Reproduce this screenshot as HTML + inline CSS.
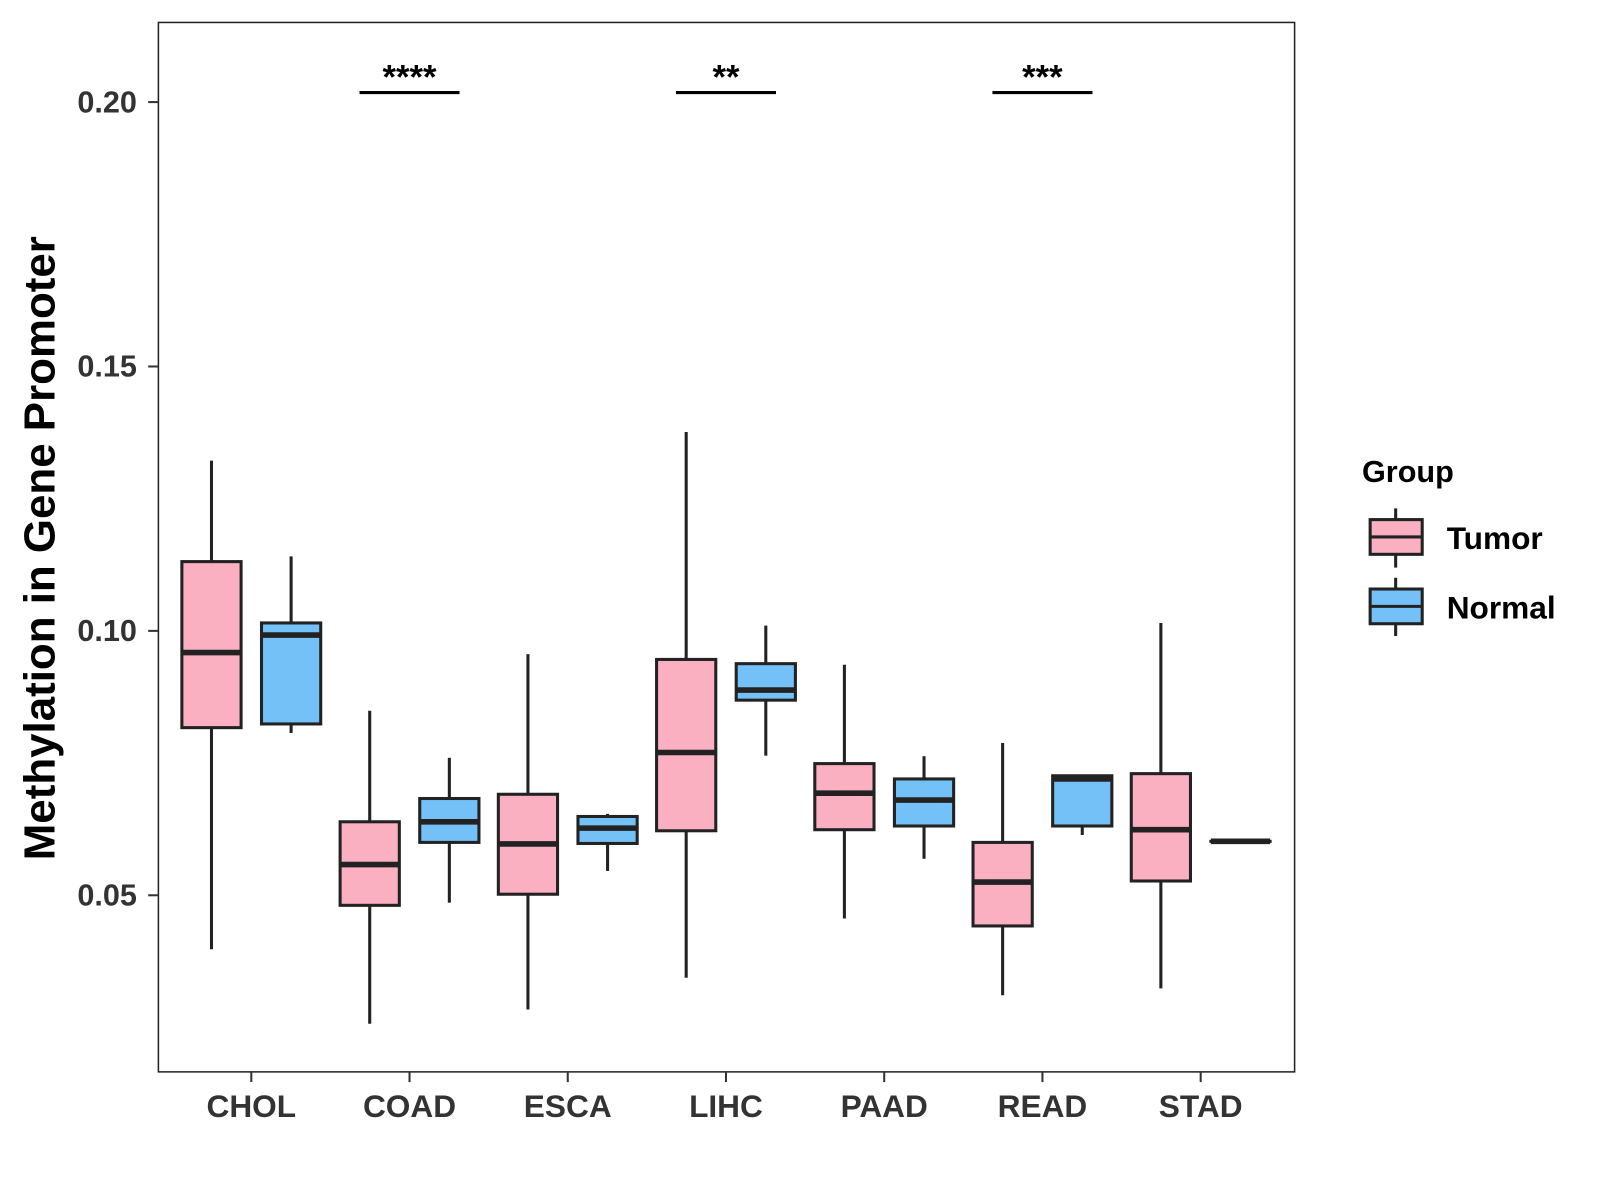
<!DOCTYPE html>
<html><head><meta charset="utf-8"><style>
html,body{margin:0;padding:0;background:#fff;}
svg{display:block;font-family:"Liberation Sans",Arial,sans-serif;font-weight:bold;}
</style></head><body>
<svg id="chart" width="1600" height="1200" viewBox="0 0 1567 1175.5">
<rect x="0" y="0" width="1567" height="1176" fill="#fff"/>
<rect x="155" y="22" width="1113" height="1028" fill="none" stroke="#222" stroke-width="1.5"/>
<g id="marks"></g>
<text transform="translate(53,537) rotate(-90)" text-anchor="middle" font-size="43" fill="#000">Methylation in Gene Promoter</text>
<g>
<text x="1334" y="472" font-size="30" fill="#000">Group</text>
<g>
<line x1="1367" y1="498" x2="1367" y2="556" stroke="#222" stroke-width="3"/>
<rect x="1342" y="509" width="51" height="34" fill="#FBB0C2" stroke="#222" stroke-width="3"/>
<line x1="1342" y1="526" x2="1393" y2="526" stroke="#222" stroke-width="3"/>
<text x="1417" y="538" font-size="31" fill="#000">Tumor</text>
</g>
<g>
<line x1="1367" y1="566" x2="1367" y2="623" stroke="#222" stroke-width="3"/>
<rect x="1342" y="577" width="51" height="34" fill="#74C1F7" stroke="#222" stroke-width="3"/>
<line x1="1342" y1="594" x2="1393" y2="594" stroke="#222" stroke-width="3"/>
<text x="1417" y="606" font-size="31" fill="#000">Normal</text>
</g>
</g>
</svg>
<script>
const categories = ["CHOL","COAD","ESCA","LIHC","PAAD","READ","STAD"];
const tumorStats = [
 [0.0398,0.0817,0.0959,0.1131,0.1322],
 [0.0257,0.0481,0.0558,0.0639,0.0849],
 [0.0284,0.0502,0.0597,0.0691,0.0956],
 [0.0344,0.0622,0.0770,0.0946,0.1376],
 [0.0456,0.0624,0.0693,0.0749,0.0936],
 [0.0311,0.0442,0.0525,0.0600,0.0788],
 [0.0324,0.0527,0.0624,0.0730,0.1015]
];
const normalStats = [
 [0.0807,0.0824,0.0992,0.1015,0.1141],
 [0.0486,0.0600,0.0639,0.0683,0.0760],
 [0.0546,0.0598,0.0627,0.0649,0.0654],
 [0.0764,0.0869,0.0888,0.0938,0.1010],
 [0.0569,0.0631,0.0680,0.0720,0.0763],
 [0.0614,0.0631,0.0720,0.0726,0.0726],
 [0.0602,0.0602,0.0602,0.0602,0.0602]
];
const yTicks = [0.05,0.10,0.15,0.20];
const yTickLabels = ["0.05","0.10","0.15","0.20"];
const sigCategories = ["COAD","LIHC","READ"];
const sigLabels = ["****","**","***"];
const sigValue = 0.2018;

const NS="http://www.w3.org/2000/svg";
const g=document.getElementById('marks');
function y(v){return 100+(0.20-v)*5180;}
function x(i){return 246+i*155;}
function mk(tag,attrs,parent){const e=document.createElementNS(NS,tag);for(const k in attrs)e.setAttribute(k,attrs[k]);(parent||g).appendChild(e);return e;}

yTicks.forEach((t,i)=>{
 const tk=mk('line',{x1:145,x2:155,y1:y(t),y2:y(t),stroke:'#333','stroke-width':2});
 
 
 const tl=mk('text',{x:134,y:y(t)+10,'text-anchor':'end','font-size':30,fill:'#333'});
 tl.textContent=yTickLabels[i];
 
 
});
categories.forEach((c,i)=>{
 const tk=mk('line',{x1:x(i),x2:x(i),y1:1050,y2:1060,stroke:'#333','stroke-width':2});
 
 
 const tl=mk('text',{x:x(i),y:1094,'text-anchor':'middle','font-size':31,fill:'#333'});
 tl.textContent=c;
 
 
});
function box(cx,s,fill,name){
 const grp=mk('g',{});
 
 
 const w=29;
 mk('line',{x1:cx,x2:cx,y1:y(s[4]),y2:y(s[3]),stroke:'#222','stroke-width':3},grp);
 mk('line',{x1:cx,x2:cx,y1:y(s[1]),y2:y(s[0]),stroke:'#222','stroke-width':3},grp);
 mk('rect',{x:cx-w,y:y(s[3]),width:2*w,height:Math.max(0.01,y(s[1])-y(s[3])),fill:fill,stroke:'#222','stroke-width':3},grp);
 mk('line',{x1:cx-w,x2:cx+w,y1:y(s[2]),y2:y(s[2]),stroke:'#222','stroke-width':5.5},grp);
}
categories.forEach((c,i)=>{
 box(x(i)-39,tumorStats[i],'#FBB0C2','box-tumor-'+c.toLowerCase());
 box(x(i)+39,normalStats[i],'#74C1F7','box-normal-'+c.toLowerCase());
});
sigCategories.forEach((c,j)=>{
 const i=categories.indexOf(c);
 const ln=mk('line',{x1:x(i)-49,x2:x(i)+49,y1:y(sigValue),y2:y(sigValue),stroke:'#000','stroke-width':3});
 
 
 const t=mk('text',{x:x(i),y:y(sigValue)-4,'text-anchor':'middle','font-size':34,fill:'#000'});
 t.textContent=sigLabels[j];
 
 
});
</script>
</body></html>
